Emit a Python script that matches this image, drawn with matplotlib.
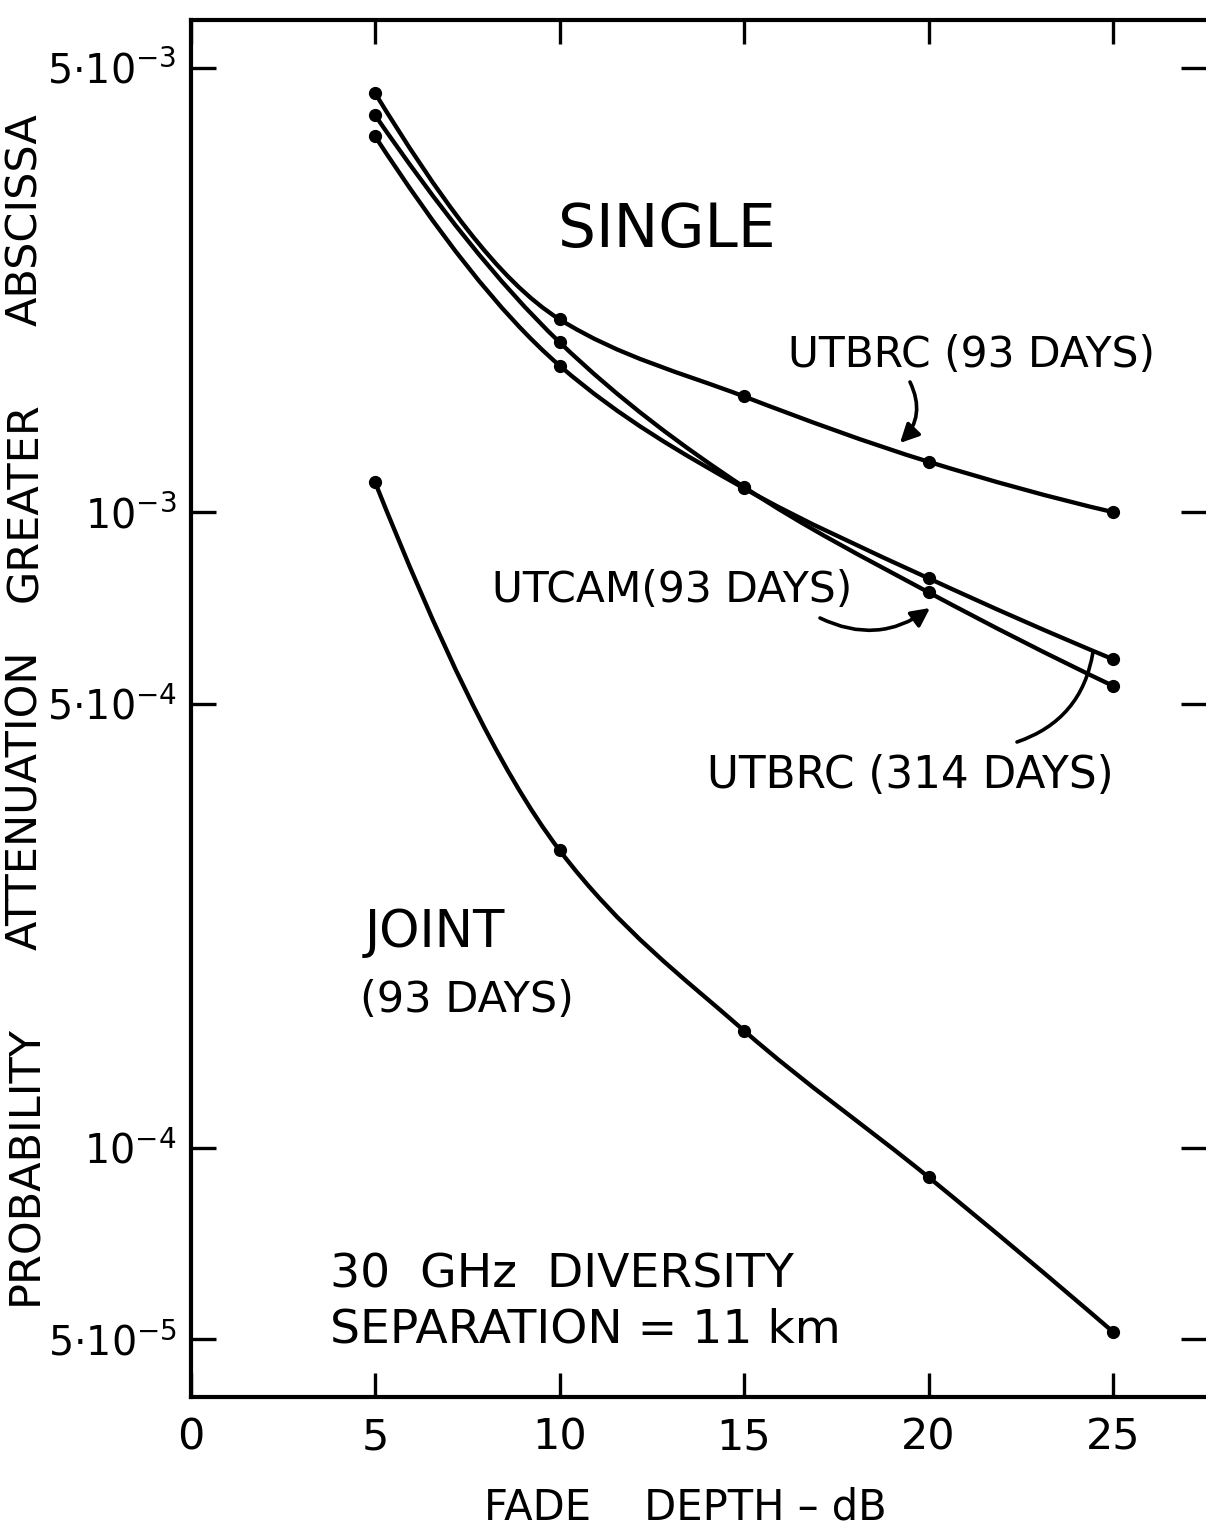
import numpy as np
import matplotlib
matplotlib.use("Agg")
import matplotlib.pyplot as plt
from matplotlib.path import Path
from matplotlib.patches import PathPatch
from matplotlib.ticker import NullLocator

# ---- data ----
fade_db = [5, 10, 15, 20, 25]
utbrc_93 = [4.56e-3, 2.01e-3, 1.52e-3, 1.20e-3, 1.00e-3]
utcam_93 = [4.21e-3, 1.85e-3, 1.095e-3, 7.48e-4, 5.33e-4]
utbrc_314 = [3.90e-3, 1.70e-3, 1.09e-3, 7.87e-4, 5.87e-4]
joint_93 = [1.115e-3, 2.94e-4, 1.53e-4, 9.0e-5, 5.14e-5]

x_ticks = [0, 5, 10, 15, 20, 25]
x_ticklabels = ["0", "5", "10", "15", "20", "25"]
y_ticks = [5e-5, 1e-4, 5e-4, 1e-3, 5e-3]
y_ticklabels = [r"$5{\cdot}10^{-5}$", r"$10^{-4}$", r"$5{\cdot}10^{-4}$",
                r"$10^{-3}$", r"$5{\cdot}10^{-3}$"]
ylabel_words = ["PROBABILITY", "ATTENUATION", "GREATER", "ABSCISSA"]

W, H = 1206, 1538
plt.rcParams['font.family'] = ['DejaVu Sans']
plt.rcParams['mathtext.fontset'] = 'dejavusans'

fig = plt.figure(figsize=(W / 100, H / 100), dpi=100)
ax = fig.add_axes([190.5 / W, 1 - 1397 / H, (W - 190.5) / W, (1397 - 20) / H])
ax.set_yscale('log')
ax.set_xlim(0, 27.52)
ax.set_ylim(4.06e-5, 5.94e-3)


def smooth_path(x, y):
    """Monotone (PCHIP-style) cubic Bezier through the points, built in
    (x, log10 y) space so that it is smooth on the log axis."""
    xs = np.asarray(x, float)
    ls = np.log10(np.asarray(y, float))
    h = np.diff(xs)
    d = np.diff(ls) / h
    n = len(xs)
    m = np.zeros(n)
    for i in range(1, n - 1):
        if d[i - 1] * d[i] <= 0:
            m[i] = 0.0
        else:
            w1 = 2 * h[i] + h[i - 1]
            w2 = h[i] + 2 * h[i - 1]
            m[i] = (w1 + w2) / (w1 / d[i - 1] + w2 / d[i])
    m[0] = ((2 * h[0] + h[1]) * d[0] - h[0] * d[1]) / (h[0] + h[1])
    m[-1] = ((2 * h[-1] + h[-2]) * d[-1] - h[-1] * d[-2]) / (h[-1] + h[-2])
    verts = [(xs[0], ls[0])]
    codes = [Path.MOVETO]
    for i in range(n - 1):
        dx = h[i] / 3.0
        verts += [(xs[i] + dx, ls[i] + m[i] * dx),
                  (xs[i + 1] - dx, ls[i + 1] - m[i + 1] * dx),
                  (xs[i + 1], ls[i + 1])]
        codes += [Path.CURVE4] * 3
    verts = np.array(verts)
    verts[:, 1] = 10 ** verts[:, 1]
    return Path(verts, codes)


for series in (utbrc_93, utcam_93, utbrc_314, joint_93):
    ax.add_patch(PathPatch(smooth_path(fade_db, series), facecolor='none',
                           edgecolor='black', lw=3.1, capstyle='round'))
    ax.plot(fade_db, series, linestyle='none', marker='o', markersize=8.5,
            color='black')

# axes styling
ax.spines['right'].set_visible(False)
for s in ('left', 'top', 'bottom'):
    ax.spines[s].set_linewidth(3.0)
ax.set_xticks(x_ticks)
ax.set_xticklabels(x_ticklabels)
ax.set_yticks(y_ticks)
ax.set_yticklabels(y_ticklabels)
ax.yaxis.set_minor_locator(NullLocator())
ax.xaxis.set_minor_locator(NullLocator())
ax.tick_params(axis='x', direction='in', top=True, bottom=True, length=17,
               width=2.4, labelsize=31, pad=14)
ax.tick_params(axis='y', direction='in', left=True, right=True, length=18,
               width=2.4, labelsize=28.5, pad=10)


def fp(x, y):
    return (x, H - y)


def ftext(x, y, s, size, ha='center', va='center', rot=0):
    fig.text(x / W, 1 - y / H, s, fontsize=size, ha=ha, va=va, rotation=rot)


ftext(685, 1507, "FADE    DEPTH – dB", 30)
for word, yc in zip(ylabel_words, [1165, 800, 502, 220]):
    ftext(25, yc, word, 31, rot=90)

ftext(667, 230, "SINGLE", 43)
ftext(971, 355, "UTBRC (93 DAYS)", 30.5)
ftext(672, 590, "UTCAM(93 DAYS)", 30.5)
ftext(910, 775, "UTBRC (314 DAYS)", 31.5)
ftext(435, 933, "JOINT", 37)
ftext(467, 1000, "(93 DAYS)", 31)
ftext(330, 1275, "30  GHz  DIVERSITY", 34, ha='left')
ftext(330, 1330, "SEPARATION = 11 km", 34, ha='left')

arrow_kw = dict(xycoords='figure pixels', textcoords='figure pixels')
ax.annotate('', xy=fp(900, 443), xytext=fp(910, 382), **arrow_kw,
            arrowprops=dict(arrowstyle='-|>', connectionstyle='arc3,rad=-0.35',
                            lw=2.6, color='black', mutation_scale=28,
                            shrinkA=0, shrinkB=0))
ax.annotate('', xy=fp(930, 608), xytext=fp(820, 618), **arrow_kw,
            arrowprops=dict(arrowstyle='-|>', connectionstyle='arc3,rad=0.3',
                            lw=2.6, color='black', mutation_scale=28,
                            shrinkA=0, shrinkB=0))
ax.annotate('', xy=fp(1093, 652), xytext=fp(1017, 742), **arrow_kw,
            arrowprops=dict(arrowstyle='-', connectionstyle='arc3,rad=0.3',
                            lw=2.6, color='black', shrinkA=0, shrinkB=0))

fig.savefig("out.png", dpi=100, facecolor='white')
